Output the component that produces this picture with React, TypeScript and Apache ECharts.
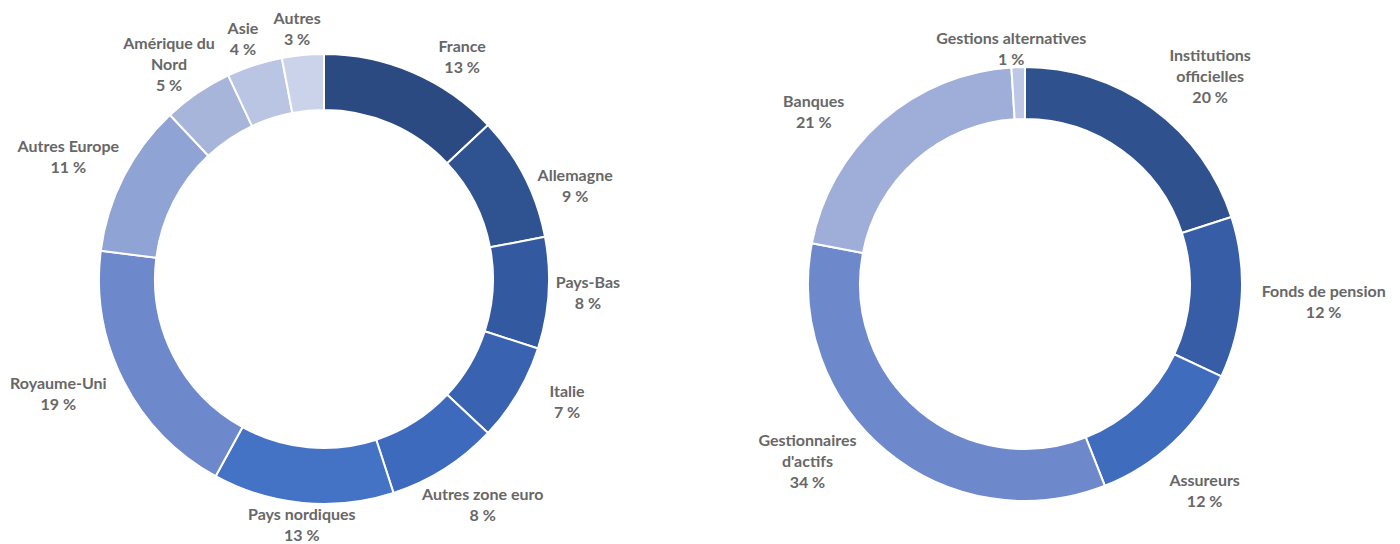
import React, { useEffect, useRef } from "react";
import * as echarts from "echarts";

// Left chart: geographic breakdown
const geoCategories = [
  "France",
  "Allemagne",
  "Pays-Bas",
  "Italie",
  "Autres zone euro",
  "Pays nordiques",
  "Royaume-Uni",
  "Autres Europe",
  "Amérique du\nNord",
  "Asie",
  "Autres",
];
const geoValues = [13, 9, 8, 7, 8, 13, 19, 11, 5, 4, 3];

// Right chart: investor type breakdown
const investorCategories = [
  "Institutions\nofficielles",
  "Fonds de pension",
  "Assureurs",
  "Gestionnaires\nd'actifs",
  "Banques",
  "Gestions alternatives",
];
const investorValues = [20, 12, 12, 34, 21, 1];

// ---- styling / layout (not data) ----
const geoColors = [
  "#2c4a82",
  "#2f5291",
  "#3359a0",
  "#3962b0",
  "#3e6abd",
  "#4472c4",
  "#6e89cb",
  "#8fa3d4",
  "#a8b5db",
  "#bac4e3",
  "#cbd3ea",
];
const investorColors = [
  "#2f528f",
  "#365da6",
  "#3f6cbd",
  "#6d88cb",
  "#9eaed8",
  "#bdc8e6",
];

const CHART_W = 1400;
const CHART_H = 544;
const LABEL_COLOR = "#676767";

// The original labels were hand-placed; small nudges from the automatic spot.
const geoLabelNudge = [
  [35, 15],
  [7, 30],
  [0, -4],
  [22, -9],
  [8, -12],
  [2, -5],
  [-13, -15],
  [-1, 7],
  [4, 18],
  [-2, 2],
  [-3, 2],
];
const investorLabelNudge = [
  [25, 12],
  [13, -1],
  [0, 15],
  [-40, -38],
  [-40, 21],
  [-6, 10],
];

const makeLabelLayout =
  (gap: number, maxBottom: number, nudges: number[][]) => (p: any) => {
    const pts = p.labelLinePoints;
    if (!pts || pts.length < 2) return {};
    const p0 = pts[0];
    const p1 = pts[1];
    let dx = p1[0] - p0[0];
    let dy = p1[1] - p0[1];
    const len = Math.hypot(dx, dy) || 1;
    dx /= len;
    dy /= len;
    const hw = p.labelRect.width / 2;
    const hh = p.labelRect.height / 2;
    const d = gap + hw * Math.abs(dx) + hh * Math.abs(dy);
    let x = p0[0] + dx * d;
    let y = p0[1] + dy * d;
    y = Math.min(y, maxBottom - hh);
    const n = nudges[p.dataIndex] || [0, 0];
    x += n[0];
    y += n[1];
    return { x, y, align: "center", verticalAlign: "middle" };
  };

const makeSeries = (
  names: string[],
  values: number[],
  colors: string[],
  center: number[],
  radius: number[],
  nudges: number[][]
) => ({
  type: "pie",
  center,
  radius,
  startAngle: 90,
  clockwise: true,
  avoidLabelOverlap: false,
  data: names.map((n, i) => ({
    name: n,
    value: values[i],
    itemStyle: { color: colors[i] },
  })),
  itemStyle: { borderColor: "#ffffff", borderWidth: 2 },
  label: {
    show: true,
    position: "outside",
    formatter: (p: any) => `${p.name}\n${p.value} %`,
    color: LABEL_COLOR,
    fontFamily: "Lato",
    fontWeight: "bold",
    fontSize: 16,
    lineHeight: 21,
    align: "center",
  },
  labelLine: {
    show: true,
    length: 10,
    length2: 0,
    lineStyle: { opacity: 0 },
  },
  labelLayout: makeLabelLayout(6, CHART_H + 6, nudges),
  emphasis: { disabled: true },
});

export default function App() {
  const ref = useRef<HTMLDivElement>(null);
  useEffect(() => {
    if (!ref.current) return;
    const chart = echarts.init(ref.current, undefined, { renderer: "svg" });
    chart.setOption({
      animation: false,
      backgroundColor: "#ffffff",
      series: [
        makeSeries(
          geoCategories,
          geoValues,
          geoColors,
          [324, 279],
          [169, 225],
          geoLabelNudge
        ),
        makeSeries(
          investorCategories,
          investorValues,
          investorColors,
          [1025, 284],
          [165, 217],
          investorLabelNudge
        ),
      ],
    });
    return () => chart.dispose();
  }, []);
  return (
    <div
      ref={ref}
      style={{
        position: "fixed",
        left: 0,
        top: 0,
        width: CHART_W,
        height: CHART_H,
        background: "#fff",
      }}
    />
  );
}
